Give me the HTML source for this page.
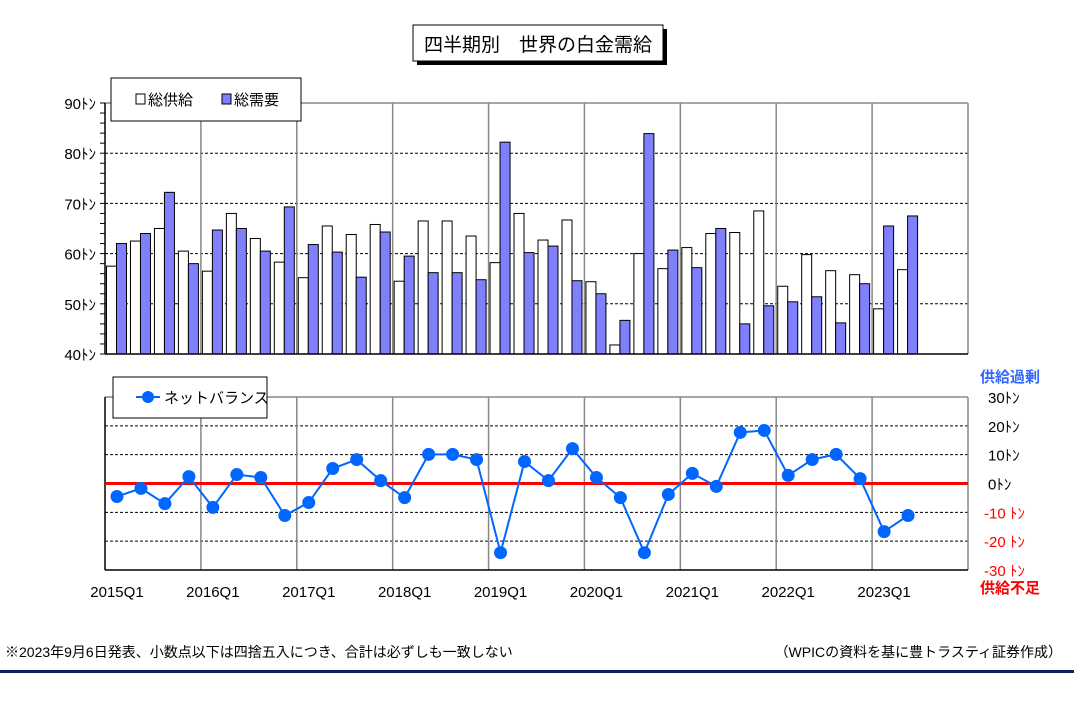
<!DOCTYPE html>
<html><head><meta charset="utf-8">
<style>
body{margin:0;background:#fff;}
svg text{font-family:"Liberation Sans","Noto Sans CJK JP",sans-serif;}
</style></head>
<body>
<svg id="c" width="1074" height="707" xmlns="http://www.w3.org/2000/svg">
<rect x="0" y="0" width="1074" height="707" fill="#fff"/>
<g>
<rect x="417" y="29" width="250" height="36" fill="#000"/>
<rect x="413" y="25" width="250" height="36" fill="#fff" stroke="#000" stroke-width="1"/>
<text x="538" y="51" font-size="19" text-anchor="middle">四半期別　世界の白金需給</text>
</g>
<g id="topG"></g>
<g id="botG"></g>
<text x="5" y="657" font-size="14">※2023年9月6日発表、小数点以下は四捨五入につき、合計は必ずしも一致しない</text>
<text x="1062" y="657" font-size="14" text-anchor="end">（WPICの資料を基に豊トラスティ証券作成）</text>
<rect x="0" y="670" width="1074" height="3" fill="#0b1f5c"/>
</svg>
<script>
const quarters=["2015Q1","2015Q2","2015Q3","2015Q4","2016Q1","2016Q2","2016Q3","2016Q4","2017Q1","2017Q2","2017Q3","2017Q4","2018Q1","2018Q2","2018Q3","2018Q4","2019Q1","2019Q2","2019Q3","2019Q4","2020Q1","2020Q2","2020Q3","2020Q4","2021Q1","2021Q2","2021Q3","2021Q4","2022Q1","2022Q2","2022Q3","2022Q4","2023Q1","2023Q2"];
const supply=[57.5,62.5,65,60.5,56.5,68,63,58.3,55.2,65.5,63.8,65.8,54.5,66.5,66.5,63.5,58.2,68,62.7,66.7,54.4,41.8,60,57,61.2,64,64.2,68.5,53.5,59.8,56.6,55.8,49,56.8];
const demand=[62,64,72.2,58,64.7,65,60.5,69.3,61.8,60.3,55.3,64.3,59.5,56.2,56.2,54.8,82.2,60.2,61.5,54.6,52,46.7,83.9,60.7,57.2,65,46,49.6,50.4,51.4,46.2,54,65.5,67.5];
const netBalance=[-4.5,-1.7,-7,2.4,-8.3,3.1,2.1,-11.1,-6.6,5.2,8.3,1,-4.9,10.1,10.1,8.3,-24,7.6,1,12.1,2.1,-4.9,-24,-3.8,3.5,-1,17.7,18.4,2.8,8.3,10.1,1.7,-16.7,-11.1];
const topTicks=[40,50,60,70,80,90];
const botTicks=[-30,-20,-10,0,10,20,30];
const xLabels=["2015Q1","2016Q1","2017Q1","2018Q1","2019Q1","2020Q1","2021Q1","2022Q1","2023Q1"];

const NS="http://www.w3.org/2000/svg";
function mk(parent,tag,attrs,text){const e=document.createElementNS(NS,tag);for(const k in attrs)e.setAttribute(k,attrs[k]);if(text!==undefined)e.textContent=text;parent.appendChild(e);return e;}
const L=105,R=968,NQ=36,qw=(R-L)/NQ;
const xq=i=>L+i*qw;
const T0=103,T1=354;const yT=v=>T1-(v-40)/50*(T1-T0);
const B0=397,B1=570;const yB=v=>B1-(v+30)/60*(B1-B0);
const topG=document.getElementById('topG'),botG=document.getElementById('botG');

for(const t of topTicks){
  if(t>40&&t<90){const g=mk(topG,'line',{x1:L,x2:R,y1:yT(t),y2:yT(t),stroke:'#000','stroke-dasharray':'3,2','stroke-width':1});
  }
  const tl=mk(topG,'text',{x:L-9,y:yT(t)+6,'font-size':15,'text-anchor':'end'},t+'ﾄﾝ');
  
}
for(let i=4;i<NQ;i+=4){const v=mk(topG,'line',{x1:xq(i),x2:xq(i),y1:T0,y2:T1,stroke:'#888','stroke-width':1.5});
}
mk(topG,'line',{x1:L,x2:R,y1:T0,y2:T0,stroke:'#888','stroke-width':1.5});
mk(topG,'line',{x1:R,x2:R,y1:T0,y2:T1,stroke:'#888','stroke-width':1.5});
for(let v=40;v<=90;v+=2){mk(topG,'line',{x1:L-5,x2:L,y1:yT(v),y2:yT(v),stroke:'#000'});}
quarters.forEach((q,i)=>{
  const s=mk(topG,'rect',{x:xq(i)+1.5,y:yT(supply[i]),width:10,height:T1-yT(supply[i]),fill:'#fff',stroke:'#000','stroke-width':1});
  
  const d=mk(topG,'rect',{x:xq(i)+11.5,y:yT(demand[i]),width:10,height:T1-yT(demand[i]),fill:'#8080ff',stroke:'#000','stroke-width':1});
  
});
mk(topG,'line',{x1:L,x2:L,y1:T0,y2:T1,stroke:'#000','stroke-width':1.5});
mk(topG,'line',{x1:L,x2:R,y1:T1,y2:T1,stroke:'#000','stroke-width':1.5});
const lg=mk(topG,'g',{});

mk(lg,'rect',{x:111,y:78,width:190,height:43,fill:'#fff',stroke:'#000'});
mk(lg,'rect',{x:136,y:94,width:9,height:10,fill:'#fff',stroke:'#000'});
mk(lg,'text',{x:148,y:105,'font-size':15},'総供給');
mk(lg,'rect',{x:222,y:94,width:9,height:10,fill:'#8080ff',stroke:'#000'});
mk(lg,'text',{x:234,y:105,'font-size':15},'総需要');

for(const t of botTicks){
  if(t!==0&&Math.abs(t)<30){const g=mk(botG,'line',{x1:L,x2:R,y1:yB(t),y2:yB(t),stroke:'#000','stroke-dasharray':'3,2','stroke-width':1});
  }
  const tl=mk(botG,'text',{x:t<0?984:988,y:yB(t)+6,'font-size':15,fill:t<0?'#ff0000':'#000'},t+(t<0?' ﾄﾝ':'ﾄﾝ'));
  
}
for(let i=4;i<NQ;i+=4){const v=mk(botG,'line',{x1:xq(i),x2:xq(i),y1:B0,y2:B1,stroke:'#888','stroke-width':1.5});
}
mk(botG,'line',{x1:L,x2:R,y1:B0,y2:B0,stroke:'#888','stroke-width':1.5});
mk(botG,'line',{x1:R,x2:R,y1:B0,y2:B1,stroke:'#888','stroke-width':1.5});
mk(botG,'line',{x1:L,x2:L,y1:B0,y2:B1,stroke:'#000','stroke-width':1.5});
mk(botG,'line',{x1:L,x2:R,y1:B1,y2:B1,stroke:'#000','stroke-width':1.5});
const z=mk(botG,'line',{x1:L,x2:R,y1:yB(0),y2:yB(0),stroke:'#ff0000','stroke-width':3});

const pts=netBalance.map((v,i)=>(xq(i)+qw/2)+','+yB(v)).join(' ');
const pl=mk(botG,'polyline',{points:pts,fill:'none',stroke:'#0066ff','stroke-width':2});

netBalance.forEach((v,i)=>{const c=mk(botG,'circle',{cx:xq(i)+qw/2,cy:yB(v),r:6.5,fill:'#0066ff'});
});
xLabels.forEach((s,k)=>{const t=mk(botG,'text',{x:xq(k*4)+qw/2,y:597,'font-size':15,'text-anchor':'middle'},s);
});
const bl=mk(botG,'g',{});

mk(bl,'rect',{x:113,y:377,width:154,height:41,fill:'#fff',stroke:'#000'});
mk(bl,'line',{x1:136,x2:160,y1:397,y2:397,stroke:'#0066ff','stroke-width':2});
mk(bl,'circle',{cx:148,cy:397,r:6,fill:'#0066ff'});
mk(bl,'text',{x:164,y:403,'font-size':15},'ネットバランス');
const s1=mk(botG,'text',{x:1010,y:382,'font-size':15,'font-weight':'bold',fill:'#3366ff','text-anchor':'middle'},'供給過剰');

const s2=mk(botG,'text',{x:1010,y:593,'font-size':15,'font-weight':'bold',fill:'#ff0000','text-anchor':'middle'},'供給不足');

</script>
</body></html>
